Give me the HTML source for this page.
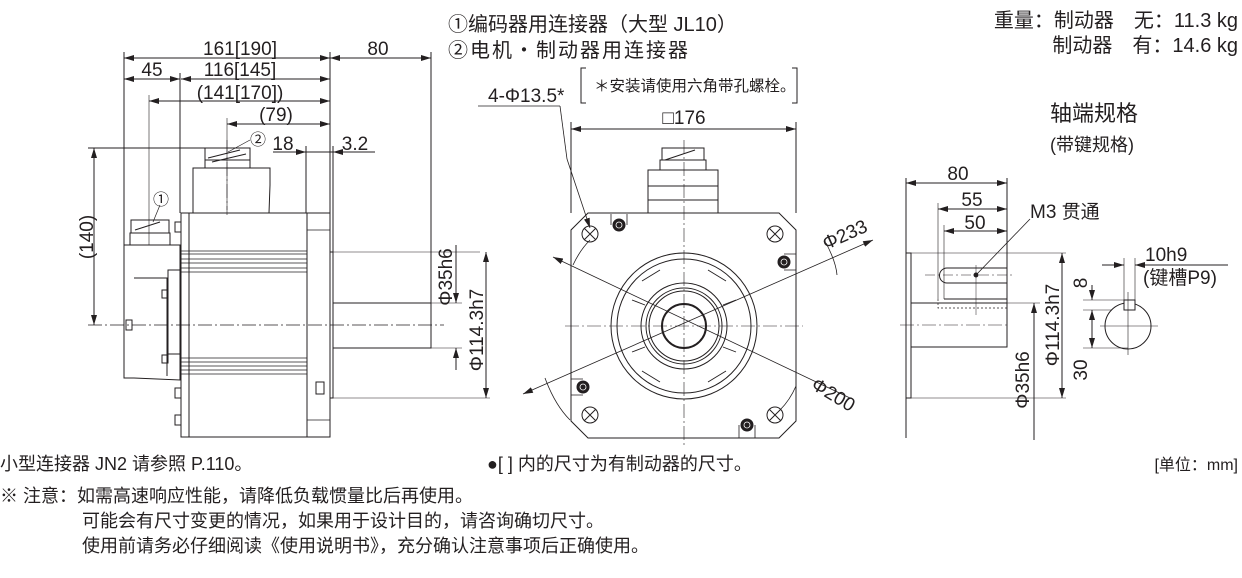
<!DOCTYPE html>
<html><head><meta charset="utf-8">
<style>
html,body{margin:0;padding:0;background:#fff;}
svg{display:block;}
text{font-family:"Liberation Sans","Noto Sans CJK SC",sans-serif;fill:#231f20;}
</style></head>
<body>
<svg width="1242" height="578" viewBox="0 0 1242 578" xmlns="http://www.w3.org/2000/svg">
<defs>
<marker id="a" viewBox="0 0 10 6" refX="10" refY="3" markerWidth="10" markerHeight="6" orient="auto-start-reverse" markerUnits="userSpaceOnUse"><path d="M0,0 L10,3 L0,6 z" fill="#231f20"/></marker>
</defs>
<g stroke="#231f20" fill="none" stroke-width="1">
<!-- ===== LEFT VIEW ===== -->
<line x1="124" y1="52" x2="124" y2="245"/>
<line x1="330" y1="52" x2="330" y2="213"/>
<line x1="431" y1="52" x2="431" y2="303"/>
<line x1="180" y1="73" x2="180" y2="213"/>
<line x1="149" y1="95" x2="149" y2="245" stroke-width="0.6"/>
<line x1="227" y1="118" x2="227" y2="210" stroke-width="0.6"/>
<line x1="306" y1="146" x2="306" y2="213"/>
<line x1="333" y1="146" x2="333" y2="252"/>
<line x1="124" y1="58" x2="330" y2="58" marker-start="url(#a)" marker-end="url(#a)"/>
<line x1="330" y1="58" x2="431" y2="58" marker-start="url(#a)" marker-end="url(#a)"/>
<line x1="124" y1="79" x2="180" y2="79" marker-start="url(#a)" marker-end="url(#a)"/>
<line x1="181" y1="79" x2="330" y2="79" marker-start="url(#a)" marker-end="url(#a)"/>
<line x1="149" y1="101" x2="330" y2="101" marker-start="url(#a)" marker-end="url(#a)"/>
<line x1="227" y1="124" x2="330" y2="124" marker-start="url(#a)" marker-end="url(#a)"/>
<line x1="273" y1="152" x2="306" y2="152" marker-end="url(#a)"/>
<line x1="306" y1="152" x2="333" y2="152"/>
<line x1="375" y1="152" x2="333" y2="152" marker-end="url(#a)"/>
<line x1="88" y1="148" x2="205" y2="148"/>
<line x1="94" y1="148" x2="94" y2="325" marker-start="url(#a)" marker-end="url(#a)"/>
<rect x="181" y="213" width="126" height="224"/>
<rect x="307" y="213" width="23" height="224"/>
<rect x="330" y="252" width="3" height="146"/>
<rect x="333" y="303" width="98" height="45"/>
<line x1="333" y1="252" x2="480" y2="252" stroke-width="0.6"/>
<line x1="333" y1="398" x2="490" y2="398" stroke-width="0.6"/>
<line x1="431" y1="303" x2="462" y2="303" stroke-width="0.6"/>
<line x1="431" y1="348" x2="462" y2="348" stroke-width="0.6"/>
<line x1="189" y1="213" x2="189" y2="437"/>
<g stroke-width="0.8">
<line x1="181" y1="251" x2="307" y2="251"/><line x1="181" y1="254" x2="307" y2="254"/>
<line x1="181" y1="259" x2="307" y2="259"/><line x1="181" y1="263" x2="307" y2="263"/>
<line x1="181" y1="268" x2="307" y2="268"/><line x1="181" y1="272" x2="307" y2="272"/>
<line x1="181" y1="358" x2="307" y2="358"/><line x1="181" y1="362" x2="307" y2="362"/>
<line x1="181" y1="366" x2="307" y2="366"/><line x1="181" y1="370" x2="307" y2="370"/>
<line x1="181" y1="374" x2="307" y2="374"/>
<line x1="307" y1="230" x2="330" y2="230"/><line x1="307" y1="420" x2="330" y2="420"/>
</g>
<rect x="316" y="382" width="8" height="12"/>
<path d="M193,213 L193,168 L270,168 L270,185 L269,213"/>
<rect x="205" y="160" width="45" height="8"/>
<rect x="205" y="148" width="45" height="12"/>
<line x1="208" y1="158" x2="240" y2="150"/><line x1="212" y1="162" x2="246" y2="154"/>
<path d="M124,245 L180,245 L180,380 L134,378 L124,378 Z"/>
<path d="M134,278 L167,278 L167,376"/>
<rect x="168" y="270" width="12" height="84"/>
<rect x="130" y="233" width="40" height="12"/>
<rect x="131" y="220" width="38" height="13"/>
<line x1="135" y1="230" x2="160" y2="222"/>
<rect x="175" y="222" width="6" height="10"/>
<rect x="162" y="290" width="6" height="8"/><rect x="162" y="355" width="6" height="8"/>
<rect x="175" y="415" width="6" height="10"/><rect x="175" y="388" width="6" height="10"/>
<rect x="126" y="320" width="6" height="10"/>
<line x1="228" y1="152" x2="250" y2="140" stroke-width="0.7"/>
<line x1="153" y1="222" x2="160" y2="205" stroke-width="0.7"/>
<line x1="88" y1="325" x2="444" y2="325" stroke-dasharray="14,3,2,3" stroke-width="0.7"/>
<line x1="227" y1="140" x2="227" y2="215" stroke-dasharray="14,3,2,3" stroke-width="0.6"/>
<line x1="456" y1="245" x2="456" y2="303" marker-end="url(#a)"/>
<line x1="456" y1="348" x2="456" y2="370" marker-start="url(#a)"/>
<line x1="486" y1="252" x2="486" y2="398" marker-start="url(#a)" marker-end="url(#a)"/>

<!-- ===== FRONT VIEW ===== -->
<line x1="571" y1="122" x2="571" y2="213"/>
<line x1="796" y1="122" x2="796" y2="213"/>
<line x1="571" y1="129" x2="796" y2="129" marker-start="url(#a)" marker-end="url(#a)"/>
<path d="M588,213 L779,213 L796,230 L796,421 L779,438 L588,438 L571,421 L571,230 Z"/>
<rect x="648" y="170" width="70" height="43"/>
<line x1="648" y1="186" x2="718" y2="186"/><line x1="648" y1="200" x2="718" y2="200"/>
<rect x="660" y="160" width="46" height="10"/>
<rect x="662" y="148" width="42" height="12"/>
<line x1="665" y1="160" x2="695" y2="150"/>
<circle cx="684" cy="326" r="73"/>
<circle cx="684" cy="326" r="67"/>
<circle cx="684" cy="326" r="43"/>
<circle cx="684" cy="326" r="38"/>
<circle cx="684" cy="326" r="35"/>
<circle cx="684" cy="326" r="22" stroke-width="2"/>
<g stroke-width="0.9">
<path d="M642,281 L660,270 M726,281 L708,270 M642,371 L660,382 M726,371 L708,382"/>
<path d="M632,300 L645,305 M736,300 L723,305 M632,352 L645,347 M736,352 L723,347"/>
</g>
<g>
<circle cx="590" cy="234" r="8"/><path d="M584,228 l12,12 M596,228 l-12,12"/>
<circle cx="775" cy="234" r="8"/><path d="M769,228 l12,12 M781,228 l-12,12"/>
<circle cx="590" cy="415" r="8"/><path d="M584,409 l12,12 M596,409 l-12,12"/>
<circle cx="775" cy="415" r="8"/><path d="M769,409 l12,12 M781,409 l-12,12"/>
</g>
<g fill="#231f20">
<circle cx="619" cy="225" r="6"/><circle cx="784" cy="262" r="6"/>
<circle cx="583" cy="387" r="6"/><circle cx="747" cy="425" r="6"/>
</g>
<g stroke="#fff" stroke-width="0.8"><circle cx="619" cy="225" r="3"/><circle cx="784" cy="262" r="3"/><circle cx="583" cy="387" r="3"/><circle cx="747" cy="425" r="3"/></g>
<path d="M611,225 L611,214 M627,214 L627,225 M784,254 L796,254 M784,270 L796,270 M571,379 L583,379 M571,395 L583,395 M739,438 L739,425 M755,425 L755,438" stroke-width="0.8"/>
<line x1="684" y1="140" x2="684" y2="445" stroke-dasharray="14,3,2,3" stroke-width="0.6"/>
<line x1="565" y1="326" x2="803" y2="326" stroke-dasharray="14,3,2,3" stroke-width="0.6"/>
<line x1="523" y1="394" x2="873" y2="240" marker-start="url(#a)" marker-end="url(#a)" stroke-width="0.8"/>
<line x1="553" y1="257" x2="850" y2="398" marker-start="url(#a)" stroke-width="0.8"/>
<path d="M567,159 L590,228" marker-end="url(#a)" stroke-width="0.8"/>
<line x1="478" y1="106" x2="560" y2="106" stroke-width="0.8"/>
<line x1="560" y1="106" x2="567" y2="159" stroke-width="0.8"/>
<path d="M826,243 Q836,262 837,275" stroke-width="0.8"/>
<path d="M545,378 Q555,405 570,420" stroke-width="0.8"/>
<path d="M573,265 Q580,250 590,240" stroke-width="0.8"/>
<path d="M780,410 Q790,400 796,386" stroke-width="0.8"/>
<path d="M586,68 L581,68 L581,103 L586,103"/>
<path d="M792,68 L797,68 L797,103 L792,103"/>

<!-- ===== RIGHT VIEW ===== -->
<line x1="906" y1="178" x2="906" y2="438"/>
<rect x="906" y="253" width="5" height="145"/>
<rect x="911" y="303" width="96" height="44"/>
<line x1="911" y1="253" x2="1066" y2="253" stroke-width="0.6"/>
<line x1="911" y1="398" x2="1066" y2="398" stroke-width="0.6"/>
<line x1="1007" y1="303" x2="1040" y2="303" stroke-width="0.6"/>
<path d="M944,299 L1007,299 L1007,303" />
<path d="M938,299 L938,308 L1007,308" stroke-dasharray="2,2" stroke-width="0.7"/>
<path d="M947,268 L1007,268 L1007,283 L947,283 A7.5,7.5 0 0 1 947,268 Z"/>
<line x1="925" y1="275" x2="1015" y2="275" stroke-dasharray="10,3,2,3" stroke-width="0.6"/>
<line x1="900" y1="325" x2="1010" y2="325" stroke-dasharray="14,3,2,3" stroke-width="0.6"/>
<line x1="976" y1="265" x2="976" y2="315" stroke-width="0.5"/>
<line x1="1007" y1="178" x2="1007" y2="303"/>
<line x1="938" y1="203" x2="938" y2="299" stroke-width="0.6"/>
<line x1="944" y1="225" x2="944" y2="299" stroke-width="0.6"/>
<line x1="906" y1="183" x2="1007" y2="183" marker-start="url(#a)" marker-end="url(#a)"/>
<line x1="938" y1="209" x2="1007" y2="209" marker-start="url(#a)" marker-end="url(#a)"/>
<line x1="944" y1="231" x2="1007" y2="231" marker-start="url(#a)" marker-end="url(#a)"/>
<line x1="1030" y1="219" x2="976" y2="275" stroke-width="0.8"/>
<circle cx="976" cy="275" r="2" fill="#231f20"/>
<line x1="1062" y1="253" x2="1062" y2="398" marker-start="url(#a)" marker-end="url(#a)"/>
<line x1="1034" y1="303" x2="1034" y2="440" marker-start="url(#a)"/>
<circle cx="1128" cy="326" r="23"/>
<rect x="1124" y="300" width="11" height="10" fill="#fff"/>
<line x1="1100" y1="326" x2="1158" y2="326" stroke-width="0.6"/>
<line x1="1128" y1="292" x2="1128" y2="355" stroke-width="0.6"/>
<line x1="1124" y1="258" x2="1124" y2="300" stroke-width="0.6"/>
<line x1="1135" y1="258" x2="1135" y2="300" stroke-width="0.6"/>
<line x1="1102" y1="265" x2="1124" y2="265" marker-end="url(#a)"/>
<line x1="1228" y1="265" x2="1135" y2="265" marker-end="url(#a)"/>
<line x1="1083" y1="300" x2="1124" y2="300" stroke-width="0.6"/>
<line x1="1083" y1="310" x2="1112" y2="310" stroke-width="0.6"/>
<line x1="1083" y1="348" x2="1128" y2="348" stroke-width="0.6"/>
<line x1="1092" y1="285" x2="1092" y2="300" marker-end="url(#a)"/>
<line x1="1092" y1="310" x2="1092" y2="348" marker-start="url(#a)" marker-end="url(#a)"/>
</g>

<!-- texts -->
<g font-size="19" text-anchor="middle">
<text x="240" y="55">161[190]</text>
<text x="378" y="55">80</text>
<text x="152" y="76">45</text>
<text x="240" y="76">116[145]</text>
<text x="240" y="99">(141[170])</text>
<text x="276" y="121">(79)</text>
<text x="283" y="150">18</text>
<text x="355" y="150">3.2</text>
<text transform="translate(93,237) rotate(-90)">(140)</text>
<text transform="translate(452,277) rotate(-90)">Φ35h6</text>
<text transform="translate(483,330) rotate(-90)">Φ114.3h7</text>
<text x="684" y="124">□176</text>
<text x="958" y="180">80</text>
<text x="972" y="206">55</text>
<text x="975" y="229">50</text>
<text transform="translate(1059,325) rotate(-90)">Φ114.3h7</text>
<text transform="translate(1029,380) rotate(-90)">Φ35h6</text>
<text transform="translate(1087,283) rotate(-90)">8</text>
<text transform="translate(1087,370) rotate(-90)">30</text>
</g>
<g font-size="19">
<text transform="translate(826,250) rotate(-24)">Φ233</text>
<text transform="translate(810,388) rotate(31)">Φ200</text>
<text x="488" y="102">4-Φ13.5*</text>
<text x="1030" y="218">M3 贯通</text>
<text x="1145" y="261">10h9</text>
<text x="1143" y="284">(键槽P9)</text>
</g>
<g font-size="16">
<text x="250" y="145">②</text>
<text x="153" y="205">①</text>
<text x="594" y="91" font-size="15.5">＊安装请使用六角带孔螺栓。</text>
</g>
<g font-size="20">
<text x="448" y="31">①编码器用连接器（大型 JL10）</text>
<text x="448" y="57" letter-spacing="2">②电机・制动器用连接器</text>
<text x="1238" y="27" text-anchor="end">重量：制动器　无：11.3 kg</text>
<text x="1238" y="52" text-anchor="end">制动器　有：14.6 kg</text>
<text x="1050" y="121" font-size="22">轴端规格</text>
<text x="1050" y="151" font-size="18">(带键规格)</text>
</g>
<g font-size="18">
<text x="0" y="470">小型连接器 JN2 请参照 P.110。</text>
<text x="487" y="470">●[ ] 内的尺寸为有制动器的尺寸。</text>
<text x="1238" y="470" text-anchor="end" font-size="16">[单位：mm]</text>
<text x="0" y="502">※ 注意：如需高速响应性能，请降低负载惯量比后再使用。</text>
<text x="82" y="527">可能会有尺寸变更的情况，如果用于设计目的，请咨询确切尺寸。</text>
<text x="82" y="552">使用前请务必仔细阅读《使用说明书》，充分确认注意事项后正确使用。</text>
</g>
</svg>
</body></html>
